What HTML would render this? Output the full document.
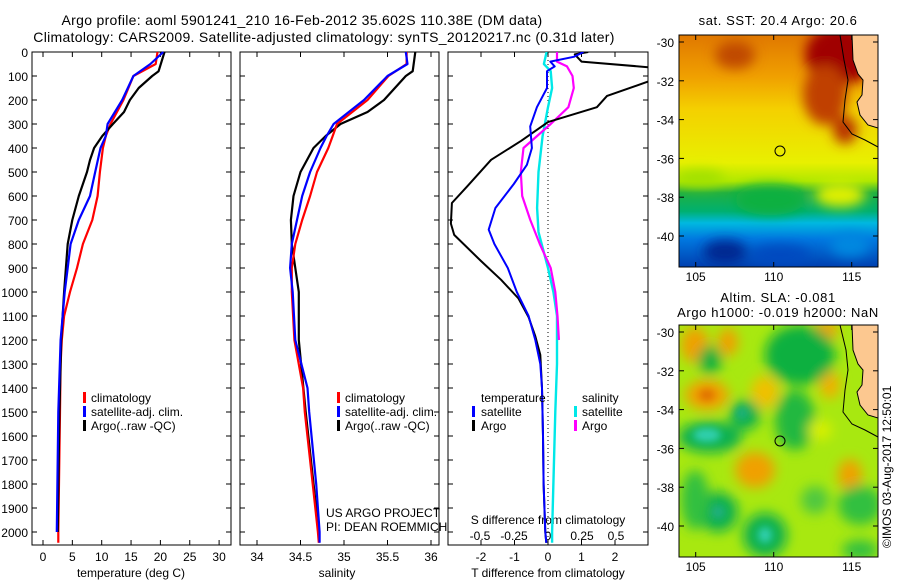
<!DOCTYPE html>
<html><head><meta charset="utf-8">
<style>
html,body{margin:0;padding:0;background:#fff;}
svg{display:block;font-family:"Liberation Sans",sans-serif;}
text{font-size:12px;fill:#000;}
text.ttl{font-size:14px;letter-spacing:0.3px;}
text.mt{font-size:13px;letter-spacing:0.6px;}
</style></head>
<body>
<svg id="chart" width="900" height="580" viewBox="0 0 900 580" xmlns="http://www.w3.org/2000/svg">
<defs>
 <clipPath id="clipTop"><rect x="679" y="35" width="199" height="232"/></clipPath>
 <clipPath id="clipBot"><rect x="679" y="325" width="199" height="232"/></clipPath>
 <clipPath id="clipP3"><rect x="448" y="52" width="200" height="493"/></clipPath>
 <filter id="blur6" x="-50%" y="-50%" width="200%" height="200%"><feGaussianBlur stdDeviation="6"/></filter>
 <filter id="blur4" x="-50%" y="-50%" width="200%" height="200%"><feGaussianBlur stdDeviation="4"/></filter>
 <linearGradient id="sstGrad" x1="0" y1="0" x2="0" y2="1">
  <stop offset="0" stop-color="#e07800"/>
  <stop offset="0.18" stop-color="#f0a000"/>
  <stop offset="0.32" stop-color="#f4d000"/>
  <stop offset="0.55" stop-color="#e8f000"/>
  <stop offset="0.63" stop-color="#b0e800"/>
  <stop offset="0.68" stop-color="#20b040"/>
  <stop offset="0.76" stop-color="#00b070"/>
  <stop offset="0.81" stop-color="#00b8e0"/>
  <stop offset="0.88" stop-color="#0078e0"/>
  <stop offset="1" stop-color="#0040b0"/>
 </linearGradient>
</defs>

<g>
 <text class="ttl" x="302" y="25" text-anchor="middle">Argo profile: aoml 5901241_210 16-Feb-2012 35.602S 110.38E (DM data)</text>
 <text class="ttl" x="324" y="42" text-anchor="middle">Climatology: CARS2009. Satellite-adjusted climatology: synTS_20120217.nc (0.31d later)</text>
</g>

<g id="panels"></g>

<!-- SST map -->
<g>
 <text class="mt" x="778" y="25" text-anchor="middle">sat. SST: 20.4 Argo: 20.6</text>
 <g clip-path="url(#clipTop)">
  <rect x="679" y="35" width="199" height="232" fill="url(#sstGrad)"/>
  <g filter="url(#blur6)">
   <ellipse cx="840" cy="55" rx="35" ry="30" fill="#a00000"/>
   <ellipse cx="825" cy="95" rx="22" ry="30" fill="#c04000"/>
   <ellipse cx="845" cy="130" rx="12" ry="14" fill="#b83000"/>
   <ellipse cx="735" cy="55" rx="20" ry="14" fill="#c04800"/>
   <ellipse cx="840" cy="195" rx="25" ry="12" fill="#e0f000"/>
   <ellipse cx="700" cy="178" rx="25" ry="8" fill="#a0e000"/>
   <ellipse cx="770" cy="200" rx="35" ry="15" fill="#10b040"/>
   <ellipse cx="725" cy="252" rx="22" ry="12" fill="#002890"/>
   <ellipse cx="780" cy="255" rx="30" ry="10" fill="#0048c0"/>
   <ellipse cx="850" cy="245" rx="20" ry="12" fill="#0088e0"/>
  </g>
  <path d="M852,35 L853,60 L858,74 L863,80 L862,95 L857,102 L860,115 L868,125 L878,128 L878,35 Z" fill="#fcc890" stroke="#000" stroke-width="1"/>
  <path d="M840,35 L844,60 L848,80 L845,100 L843,122 L852,134 L865,140 L878,147" fill="none" stroke="#000" stroke-width="1"/>
  <circle cx="780" cy="151" r="5" fill="none" stroke="#000" stroke-width="1"/>
 </g>
 <rect x="679" y="35" width="199" height="232" fill="none" stroke="#000"/>
</g>

<!-- SLA map -->
<g>
 <text class="mt" x="778" y="302" text-anchor="middle">Altim. SLA: -0.081</text>
 <text class="mt" x="778" y="317" text-anchor="middle">Argo h1000: -0.019 h2000: NaN</text>
 <g clip-path="url(#clipBot)">
  <rect x="679" y="325" width="199" height="232" fill="#a8e810"/>
  <g filter="url(#blur6)">
   <ellipse cx="695" cy="345" rx="14" ry="18" fill="#f0a000"/>
   <ellipse cx="728" cy="342" rx="10" ry="14" fill="#f0a000"/>
   <ellipse cx="707" cy="395" rx="22" ry="15" fill="#f0a000"/>
   <ellipse cx="765" cy="392" rx="14" ry="16" fill="#f0c000"/>
   <ellipse cx="755" cy="470" rx="20" ry="18" fill="#f0a000"/>
   <ellipse cx="850" cy="475" rx="12" ry="16" fill="#f0a000"/>
   <ellipse cx="830" cy="385" rx="10" ry="14" fill="#f0b000"/>
   <ellipse cx="826" cy="330" rx="12" ry="10" fill="#f0a000"/>
   <ellipse cx="800" cy="355" rx="35" ry="30" fill="#10b040"/>
   <ellipse cx="795" cy="420" rx="20" ry="30" fill="#20b840"/>
   <ellipse cx="710" cy="437" rx="32" ry="16" fill="#10b050"/>
   <ellipse cx="745" cy="415" rx="15" ry="15" fill="#10b050"/>
   <ellipse cx="710" cy="360" rx="12" ry="14" fill="#10b040"/>
   <ellipse cx="718" cy="512" rx="20" ry="20" fill="#10b050"/>
   <ellipse cx="765" cy="535" rx="22" ry="22" fill="#10b050"/>
   <ellipse cx="860" cy="505" rx="22" ry="20" fill="#30c040"/>
   <ellipse cx="860" cy="550" rx="18" ry="10" fill="#30c040"/>
   <ellipse cx="695" cy="500" rx="14" ry="30" fill="#30c040"/>
   <ellipse cx="815" cy="500" rx="14" ry="14" fill="#50c840"/>
   <ellipse cx="820" cy="430" rx="12" ry="10" fill="#d8f000"/>
  </g>
  <g filter="url(#blur4)">
   <ellipse cx="707" cy="435" rx="14" ry="7" fill="#30d0b0"/>
   <ellipse cx="765" cy="535" rx="7" ry="8" fill="#30d0b0"/>
   <ellipse cx="718" cy="512" rx="7" ry="7" fill="#20b080"/>
   <ellipse cx="742" cy="413" rx="6" ry="6" fill="#20b080"/>
   <ellipse cx="707" cy="395" rx="8" ry="6" fill="#e07000"/>
  </g>
  <path d="M852,325 L853,350 L858,364 L863,370 L862,385 L857,392 L860,405 L868,415 L878,418 L878,325 Z" fill="#fcc890" stroke="#000" stroke-width="1"/>
  <path d="M840,325 L846,350 L848,370 L845,390 L843,412 L852,424 L865,430 L878,437" fill="none" stroke="#000" stroke-width="1"/>
  <circle cx="780" cy="441" r="5" fill="none" stroke="#000" stroke-width="1"/>
 </g>
 <rect x="679" y="325" width="199" height="232" fill="none" stroke="#000"/>
 <text transform="translate(891,548) rotate(-90)">©IMOS 03-Aug-2017 12:50:01</text>
</g>
<g id="mapaxes"></g>
</svg>

<script>
// ---- data ----
var tempDepth   = [0,50,100,200,300,350,400,500,600,700,800,900,1000,1100,1200,1300,1500,2000,2045];
var tempClim    = [19.5,19.2,15.4,13.7,11.5,10.7,10.2,9.7,9.3,8.4,6.8,5.8,4.6,3.6,3.2,3.0,2.9,2.6,2.6];
var tempSatDepth= [0,50,100,200,300,350,400,500,600,700,800,900,1000,1200,1500,2000];
var tempSat     = [20.5,18.3,15.4,13.5,11.0,10.7,9.8,8.9,8.0,6.1,4.7,4.2,3.7,3.0,2.6,2.35];
var tempArgoDepth=[0,80,100,150,200,250,300,350,400,450,500,600,700,800,900,1000,1200,1500,2000];
var tempArgo    = [20.7,19.7,18.6,16.3,14.8,13.8,11.9,10.1,8.7,8.0,7.5,6.1,5.0,4.2,3.9,3.6,3.1,2.8,2.5];

var salDepth    = [0,50,100,200,300,350,400,500,600,700,800,900,1000,1200,1400,1500,1800,2000,2045];
var salClim     = [35.72,35.72,35.51,35.27,34.92,34.87,34.82,34.69,34.61,34.52,34.44,34.40,34.40,34.43,34.53,34.55,34.64,34.70,34.71];
var salSat      = [35.71,35.73,35.50,35.23,34.88,34.80,34.73,34.61,34.52,34.46,34.40,34.38,34.41,34.44,34.58,34.60,34.68,34.72,34.72];
var salArgoDepth= [0,80,100,200,250,300,350,400,500,600,700,800,900,1000,1200,1500,2000];
var salArgo     = [35.82,35.79,35.71,35.46,35.27,34.96,34.79,34.65,34.50,34.42,34.39,34.40,34.44,34.48,34.48,34.56,34.71];

var dTDepth     = [0,10,40,66,113,183,230,292,370,449,558,629,715,762,871,949,1027,1105,1184,1262,1400,1600,1800,2000,2045];
var dTArgo      = [1.2,0.8,1.0,3.2,3.2,1.76,1.46,0.0,-0.8,-1.7,-2.4,-2.87,-2.9,-2.8,-2.0,-1.4,-0.88,-0.58,-0.38,-0.23,-0.18,-0.15,-0.13,-0.08,-0.05];
var dTSatDepth  = [0,20,40,60,80,150,230,310,400,470,550,650,740,800,900,1000,1100,1200,1300,1400,1600,1800,2000,2045];
var dTSat       = [1.06,0.77,0.07,0.2,-0.03,-0.03,-0.33,-0.53,-0.48,-0.63,-1.02,-1.57,-1.77,-1.6,-1.2,-0.93,-0.58,-0.38,-0.23,-0.18,-0.15,-0.13,-0.08,-0.05];
var dSSatDepth  = [0,50,80,150,230,350,500,650,750,900,1000,1100,1300,1500,2000,2045];
var dSSat       = [-0.01,-0.03,0.02,0.03,0.0,-0.04,-0.07,-0.08,-0.07,0.0,0.04,0.066,0.066,0.054,0.03,0.03];
var dSArgoDepth = [0,40,60,100,150,230,300,350,400,500,600,700,800,900,1000,1100,1200];
var dSArgo      = [0.066,0.066,0.14,0.18,0.19,0.15,0.02,-0.08,-0.18,-0.2,-0.19,-0.13,-0.06,0.02,0.054,0.07,0.08];

var depthTicks  = [0,100,200,300,400,500,600,700,800,900,1000,1100,1200,1300,1400,1500,1600,1700,1800,1900,2000];
var tempTicks   = [0,5,10,15,20,25,30];
var salTicks    = [34,34.5,35,35.5,36];
var salTickLabels=["34","34.5","35","35.5","36"];
var dTTicks     = [-2,-1,0,1,2];
var dSTicks     = [-0.5,-0.25,0,0.25,0.5];
var dSTickLabels= ["-0.5","-0.25","0","0.25","0.5"];
var latTicks    = [-30,-32,-34,-36,-38,-40];
var lonTicks    = [105,110,115];

// ---- axes ----
var NS="http://www.w3.org/2000/svg";
var TOP=52, BOT=545;
function yD(d){ return TOP + d*0.24; }
function xT(v){ return 43 + v*5.87; }
function xS(v){ return 257 + (v-34)*87; }
function xDT(v){ return 548 + v*33.5; }
function xDS(v){ return 548 + v*136; }
function mk(tag, attrs, parent){ var e=document.createElementNS(NS,tag); for(var k in attrs) e.setAttribute(k,attrs[k]); parent.appendChild(e); return e; }
var root=document.getElementById('panels');

function panel(x0,x1,name){
  var g=mk('g',{},root);
  
  
  var r=mk('rect',{x:x0,y:TOP,width:x1-x0,height:BOT-TOP,fill:'none',stroke:'#000','stroke-width':1},g);
  
  
  depthTicks.forEach(function(d){
    mk('line',{x1:x0,x2:x0+5,y1:yD(d),y2:yD(d),stroke:'#000'},g);
    mk('line',{x1:x1,x2:x1-5,y1:yD(d),y2:yD(d),stroke:'#000'},g);
  });
  return g;
}
function line(g,xs,ds,fx,color,w,name){
  var p=xs.map(function(v,i){return fx(v).toFixed(1)+','+yD(ds[i]).toFixed(1);}).join(' ');
  var pl=mk('polyline',{points:p,fill:'none',stroke:color,'stroke-width':w,'stroke-linejoin':'round'},g);
  
  
}
function txt(g,x,y,s,name,anchor,cls){
  var t=mk('text',{x:x,y:y,'text-anchor':anchor||'start'},g); t.textContent=s;
  if(cls) t.setAttribute('class',cls);
  
  
  return t;
}
function xticks(g,ticks,labels,fx,y){
  ticks.forEach(function(t,i){
    var x=fx(t);
    mk('line',{x1:x,x2:x,y1:BOT,y2:BOT-5,stroke:'#000'},g);
    mk('line',{x1:x,x2:x,y1:TOP,y2:TOP+5,stroke:'#000'},g);
    txt(g,x,y,labels[i],'x-tick-label','middle');
  });
}
function bar(g,x,y,c){ mk('rect',{x:x,y:y-10,width:3,height:11,fill:c},g); }

// depth labels
var yl=mk('g',{},root);


depthTicks.forEach(function(d){
  txt(yl,28,yD(d)+5,String(d),'depth-tick-label','end');
});

// panel 1 temperature
var g1=panel(32,231,'temperature-panel');
xticks(g1,tempTicks,tempTicks.map(String),xT,561);
txt(g1,131,577,'temperature (deg C)','temperature-axis-title','middle');
line(g1,tempClim,tempDepth,xT,'#ff0000',2.2,'temperature-climatology-line');
line(g1,tempArgo,tempArgoDepth,xT,'#000000',2.2,'temperature-argo-line');
line(g1,tempSat,tempSatDepth,xT,'#0000ff',2.2,'temperature-satellite-line');
bar(g1,83,402,'#ff0000'); txt(g1,91,402,'climatology','legend-climatology');
bar(g1,83,416,'#0000ff'); txt(g1,91,416,'satellite-adj. clim.','legend-satellite');
bar(g1,83,430,'#000'); txt(g1,91,430,'Argo(..raw -QC)','legend-argo');

// panel 2 salinity
var g2=panel(240,439,'salinity-panel');
xticks(g2,salTicks,salTickLabels,xS,561);
txt(g2,337,577,'salinity','salinity-axis-title','middle');
line(g2,salArgo,salArgoDepth,xS,'#000000',2.2,'salinity-argo-line');
line(g2,salClim,salDepth,xS,'#ff0000',2.2,'salinity-climatology-line');
line(g2,salSat,salDepth,xS,'#0000ff',2.2,'salinity-satellite-line');
bar(g2,337,402,'#ff0000'); txt(g2,345,402,'climatology','legend-climatology');
bar(g2,337,416,'#0000ff'); txt(g2,345,416,'satellite-adj. clim.','legend-satellite');
bar(g2,337,430,'#000'); txt(g2,345,430,'Argo(..raw -QC)','legend-argo');
txt(g2,326,517,'US ARGO PROJECT','credit-project');
txt(g2,326,531,'PI: DEAN ROEMMICH','credit-pi');

// panel 3 differences
var g3=panel(448,648,'difference-panel');
xticks(g3,dTTicks,dTTicks.map(String),xDT,561);
dSTicks.forEach(function(t,i){ txt(g3,xDS(t),540,dSTickLabels[i],'s-tick-label','middle'); });
txt(g3,548,524,'S difference from climatology','s-axis-title','middle');
txt(g3,548,577,'T difference from climatology','t-axis-title','middle');
mk('line',{x1:548,x2:548,y1:TOP,y2:BOT,stroke:'#000','stroke-dasharray':'1,3'},g3);
var c3=mk('g',{'clip-path':'url(#clipP3)'},g3);
line(c3,dSSat,dSSatDepth,xDS,'#00e8e8',2.4,'salinity-satellite-diff-line');
line(c3,dSArgo,dSArgoDepth,xDS,'#ff00ff',2.2,'salinity-argo-diff-line');
line(c3,dTArgo,dTDepth,xDT,'#000000',2,'temperature-argo-diff-line');
line(c3,dTSat,dTSatDepth,xDT,'#0000ff',2,'temperature-satellite-diff-line');
txt(g3,481,402,'temperature','legend-temperature-header');
bar(g3,472,416,'#0000ff'); txt(g3,481,416,'satellite','legend-t-satellite');
bar(g3,472,430,'#000'); txt(g3,481,430,'Argo','legend-t-argo');
txt(g3,582,402,'salinity','legend-salinity-header');
bar(g3,574,416,'#00e8e8'); txt(g3,582,416,'satellite','legend-s-satellite');
bar(g3,574,430,'#ff00ff'); txt(g3,582,430,'Argo','legend-s-argo');

// map axes
var ma=document.getElementById('mapaxes');
function lonX(l){ return 695.7 + (l-105)*15.6; }
[[35,267,42],[325,557,332]].forEach(function(m,k){
  latTicks.forEach(function(la){
    var y=m[2] + (-30-la)*19.4;
    mk('line',{x1:679,x2:684,y1:y,y2:y,stroke:'#000'},ma);
    mk('line',{x1:878,x2:873,y1:y,y2:y,stroke:'#000'},ma);
    txt(ma,674,y+5,String(la),'lat-tick-label','end');
  });
  lonTicks.forEach(function(lo){
    var x=lonX(lo);
    mk('line',{x1:x,x2:x,y1:m[1],y2:m[1]-5,stroke:'#000'},ma);
    mk('line',{x1:x,x2:x,y1:m[0],y2:m[0]+5,stroke:'#000'},ma);
    txt(ma,x,m[1]+14,String(lo),'lon-tick-label','middle');
  });
});
</script>
</body></html>
